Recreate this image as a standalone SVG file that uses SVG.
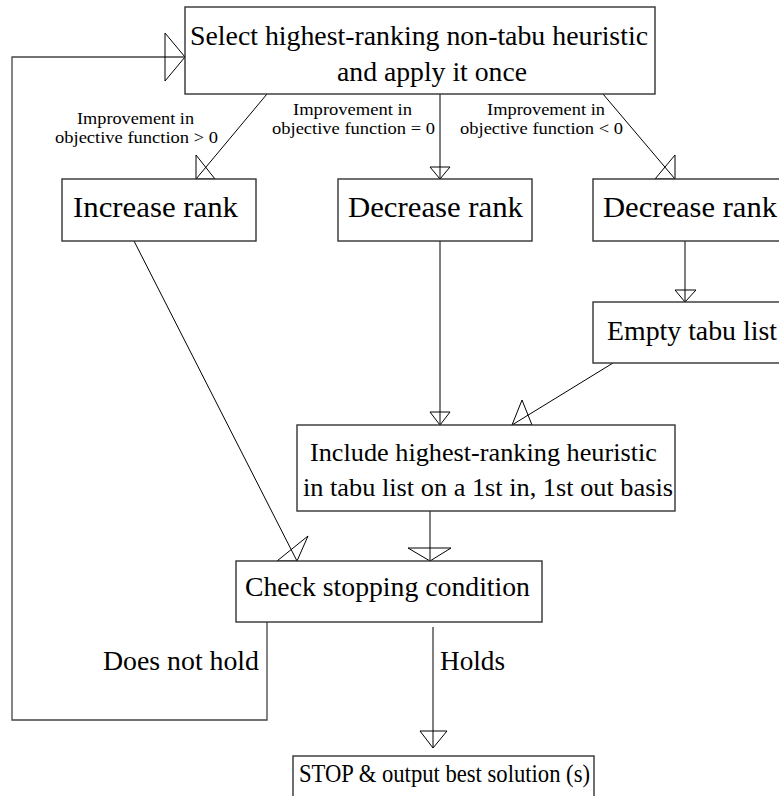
<svg xmlns="http://www.w3.org/2000/svg" width="779" height="796" viewBox="0 0 779 796">
<style>
.box{fill:#fff;stroke:#333;stroke-width:1.4}
.t{font-family:"Liberation Serif","Times New Roman",serif;fill:#000}
.lbl{font-size:16px}
.ln{fill:none;stroke:#000;stroke-width:1}
.ah{fill:none;stroke:#000;stroke-width:1}
</style>
<rect width="779" height="796" fill="#fff"/>
<g id="connectors">
<polyline class="ln" points="267,622 267,720 12,720 12,57 185,57" style="stroke:#444;stroke-width:1.3"/>
<polygon class="ah" points="165,33 165,81 185,57"/>
<line class="ln" x1="267" y1="94" x2="196" y2="179"/>
<polygon class="ah" points="196,155 196,179 215,179"/>
<line class="ln" x1="440" y1="94" x2="440" y2="179"/>
<polygon class="ah" points="430,167 450,167 440,179"/>
<line class="ln" x1="603" y1="94" x2="675" y2="179"/>
<polygon class="ah" points="675,155 675,179 655,179"/>
<line class="ln" x1="685" y1="241" x2="685" y2="302"/>
<polygon class="ah" points="675,290 696,290 685,302"/>
<line class="ln" x1="440" y1="241" x2="440" y2="425"/>
<polygon class="ah" points="430,412 450,412 440,425"/>
<line class="ln" x1="613" y1="363" x2="512" y2="425"/>
<polygon class="ah" points="512,425 532,425 522,400"/>
<line class="ln" x1="430" y1="511" x2="430" y2="561"/>
<polygon class="ah" points="408,548 451,548 430,561"/>
<line class="ln" x1="134" y1="241" x2="297" y2="561"/>
<polygon class="ah" points="277,561 297,561 308,536"/>
<line class="ln" x1="433" y1="627" x2="433" y2="748"/>
<polygon class="ah" points="420,731 447,731 433,748"/>
<g class="t lbl">
<text x="77" y="124" textLength="117" lengthAdjust="spacingAndGlyphs">Improvement in</text>
<text x="55" y="143" textLength="163" lengthAdjust="spacingAndGlyphs">objective function &gt; 0</text>
<text x="293" y="115" textLength="119" lengthAdjust="spacingAndGlyphs">Improvement in</text>
<text x="272" y="134" textLength="163" lengthAdjust="spacingAndGlyphs">objective function = 0</text>
<text x="487" y="115" textLength="118" lengthAdjust="spacingAndGlyphs">Improvement in</text>
<text x="460" y="134" textLength="163" lengthAdjust="spacingAndGlyphs">objective function &lt; 0</text>
</g>
<text class="t" x="103" y="670" font-size="28" textLength="156" lengthAdjust="spacingAndGlyphs">Does not hold</text>
<text class="t" x="440" y="670" font-size="28" textLength="65" lengthAdjust="spacingAndGlyphs">Holds</text>
</g>
<g id="select">
<rect class="box" x="185" y="7" width="470" height="87"/>
<text class="t" x="190" y="45" font-size="28" textLength="458" lengthAdjust="spacingAndGlyphs">Select highest-ranking non-tabu heuristic</text>
<text class="t" x="337" y="81" font-size="28" textLength="190" lengthAdjust="spacingAndGlyphs">and apply it once</text>
</g>
<g id="increase">
<rect class="box" x="62" y="179" width="194" height="62"/>
<text class="t" x="73" y="217" font-size="30" textLength="165" lengthAdjust="spacingAndGlyphs">Increase rank</text>
</g>
<g id="decrease1">
<rect class="box" x="338" y="179" width="194" height="62"/>
<text class="t" x="348" y="217" font-size="30" textLength="175" lengthAdjust="spacingAndGlyphs">Decrease rank</text>
</g>
<g id="decrease2">
<rect class="box" x="593" y="179" width="210" height="62"/>
<text class="t" x="603" y="217" font-size="30" textLength="174" lengthAdjust="spacingAndGlyphs">Decrease rank</text>
</g>
<g id="empty">
<rect class="box" x="593" y="302" width="210" height="61"/>
<text class="t" x="607" y="340" font-size="28" textLength="170" lengthAdjust="spacingAndGlyphs">Empty tabu list</text>
</g>
<g id="include">
<rect class="box" x="297" y="425" width="378" height="86"/>
<text class="t" x="310" y="461" font-size="26" textLength="347" lengthAdjust="spacingAndGlyphs">Include highest-ranking heuristic</text>
<text class="t" x="303" y="496" font-size="26" textLength="370" lengthAdjust="spacingAndGlyphs">in tabu list on a 1st in, 1st out basis</text>
</g>
<g id="check">
<rect class="box" x="236" y="561" width="306" height="61"/>
<text class="t" x="245" y="596" font-size="28" textLength="285" lengthAdjust="spacingAndGlyphs">Check stopping condition</text>
</g>
<g id="stop">
<rect class="box" x="293" y="756" width="301" height="50"/>
<text class="t" x="299" y="782" font-size="25" textLength="291" lengthAdjust="spacingAndGlyphs">STOP &amp; output best solution (s)</text>
</g>
</svg>
